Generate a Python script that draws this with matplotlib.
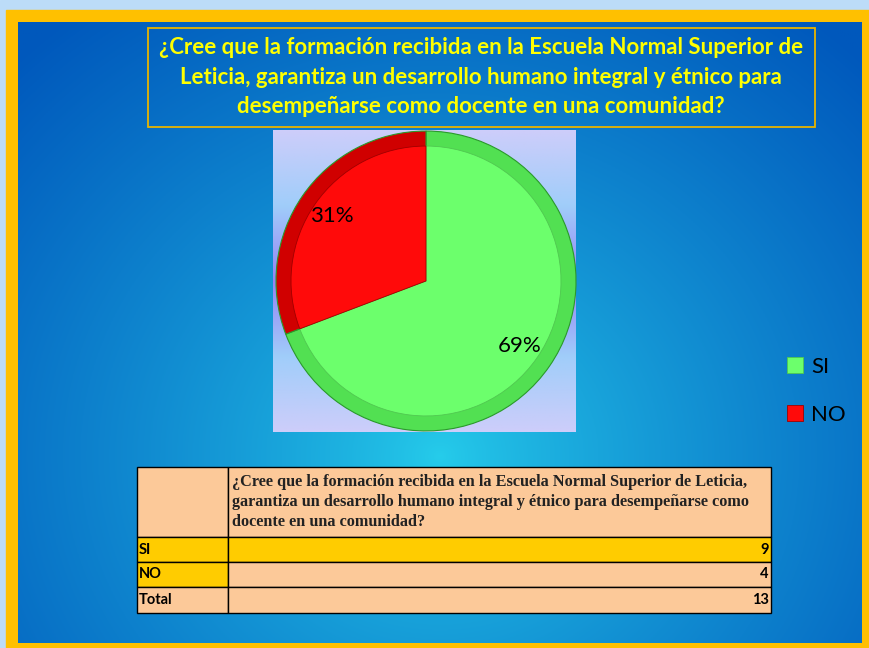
import numpy as np
import matplotlib.pyplot as plt
from matplotlib.patches import Rectangle
from matplotlib.table import Table

# figure size in pixels
W, H = 870, 648

title = ("¿Cree que la formación recibida en la Escuela Normal Superior de\n"
         "Leticia, garantiza un desarrollo humano integral y étnico para\n"
         "desempeñarse como docente en una comunidad?")
labels = ["SI", "NO"]
counts = [9, 4]
pie_colors = ["#6cff6c", "#ff0a0a"]
rim_colors = ["#52e052", "#d00000"]

table_question = ("¿Cree que la formación recibida en la Escuela Normal Superior de Leticia,\n"
                  "garantiza un desarrollo humano integral y étnico para desempeñarse como\n"
                  "docente en una comunidad?")
row_labels = ["SI", "NO", "Total"]
row_values = counts + [sum(counts)]

GOLD = "#ffc000"
PEACH = "#fcc999"
YELLOW_CELL = "#ffcc00"


def px_axes(x0, y0, x1, y1):
    """Axes placed by pixel box (origin top-left)."""
    return fig.add_axes([x0 / W, 1 - y1 / H, (x1 - x0) / W, (y1 - y0) / H])


def vgrad(stops, n=200):
    """Vertical colour gradient image, stops = [(pos, (r, g, b)), ...]."""
    pos = np.array([s[0] for s in stops])
    cols = np.array([s[1] for s in stops]) / 255
    t = np.linspace(0, 1, n)
    img = np.stack([np.interp(t, pos, cols[:, k]) for k in range(3)], axis=-1)
    return img[:, None, :]


fig = plt.figure(figsize=(W / 100, H / 100), dpi=100)

# =========================
# Background + frame
# =========================
bg = px_axes(0, 0, W, H)
bg.axis("off")
bg.add_patch(Rectangle((0, 0), W, H, color="#bcdcf8", zorder=0))
bg.add_patch(Rectangle((6, 10), W - 6, H - 10, color=GOLD, zorder=0))

yy, xx = np.mgrid[0:1:300j, 0:1:400j]
d = np.sqrt(((xx - 0.5) / 0.72) ** 2 + ((yy - 0.70) / 0.9) ** 2)
d = np.clip(d, 0, 1) ** 0.8
c_in = np.array([38, 205, 235]) / 255
c_out = np.array([0, 88, 188]) / 255
blue = c_in * (1 - d[..., None]) + c_out * d[..., None]
bg.imshow(blue, extent=(18, 862, 643, 22), aspect="auto", zorder=1)

bg.add_patch(Rectangle((148, 28), 667, 99, fill=False, edgecolor="#e8b400",
                       linewidth=1.3, zorder=2))
bg.text(481, 77, title, ha="center", va="center", color="#ffff00",
        fontsize=16, fontweight="bold", family="Lato", linespacing=1.5, zorder=3)
bg.set_xlim(0, W)
bg.set_ylim(H, 0)

# =========================
# Pie
# =========================
ax = px_axes(273, 130, 576, 432)
xl = (-1.02, 1.0)
yl = (-1.007, 1.007)
ax.imshow(vgrad([(0, (205, 205, 250)), (0.25, (160, 205, 250)),
                 (0.5, (150, 130, 245)), (0.75, (160, 205, 250)),
                 (1, (205, 205, 250))]),
          extent=(xl[0], xl[1], yl[0], yl[1]), aspect="auto", zorder=0)

ax.pie(counts, colors=rim_colors, startangle=90, counterclock=False, radius=1.0,
       autopct="%1.0f%%", pctdistance=0.76,
       textprops=dict(fontsize=16, family="Lato", color="black"),
       wedgeprops=dict(edgecolor="#2a9a2a", linewidth=0.8))
wedges, _ = ax.pie(counts, colors=pie_colors, startangle=90, counterclock=False,
                   radius=0.9, wedgeprops=dict(edgecolor="#50c850", linewidth=0.6))
wedges[1].set_edgecolor("#a00000")
ax.set_aspect("auto")
ax.set_xlim(*xl)
ax.set_ylim(*yl)
ax.axis("off")

fig.legend(wedges, labels, loc="upper left", bbox_to_anchor=(787 / W, 1 - 357 / H),
           frameon=False, handlelength=0.7, handleheight=0.7,
           handletextpad=0.4, labelspacing=1.25, borderpad=0, borderaxespad=0,
           prop=dict(family="Lato", size=16))

# =========================
# Table
# =========================
tax = px_axes(137, 467, 771, 613)
tax.axis("off")
tab = Table(tax, bbox=[0, 0, 1, 1])
col_w = [91, 543]
row_h = [70, 25, 25, 26]

tab.add_cell(0, 0, col_w[0], row_h[0], facecolor=PEACH, edgecolor="black")
c = tab.add_cell(0, 1, col_w[1], row_h[0], text=table_question, loc="left",
                 facecolor=PEACH, edgecolor="black")
c.PAD = 0.008
c.get_text().set(family="Liberation Serif", fontweight="bold", fontsize=11.7,
                 linespacing=1.35, color="#222222")

for i, (lab, val) in enumerate(zip(row_labels, row_values), start=1):
    face0 = YELLOW_CELL if lab != "Total" else PEACH
    face1 = YELLOW_CELL if lab == "SI" else PEACH
    c0 = tab.add_cell(i, 0, col_w[0], row_h[i], text=lab, loc="left",
                      facecolor=face0, edgecolor="black")
    c0.PAD = 0.02
    c1 = tab.add_cell(i, 1, col_w[1], row_h[i], text=str(val), loc="right",
                      facecolor=face1, edgecolor="black")
    c1.PAD = 0.004
    for cc in (c0, c1):
        cc.get_text().set(family="Lato", fontweight="bold", fontsize=10.5)

tab.auto_set_font_size(False)
for cell in tab.get_celld().values():
    cell.set_linewidth(1.0)
tax.add_table(tab)

fig.savefig("out.png", dpi=100)
